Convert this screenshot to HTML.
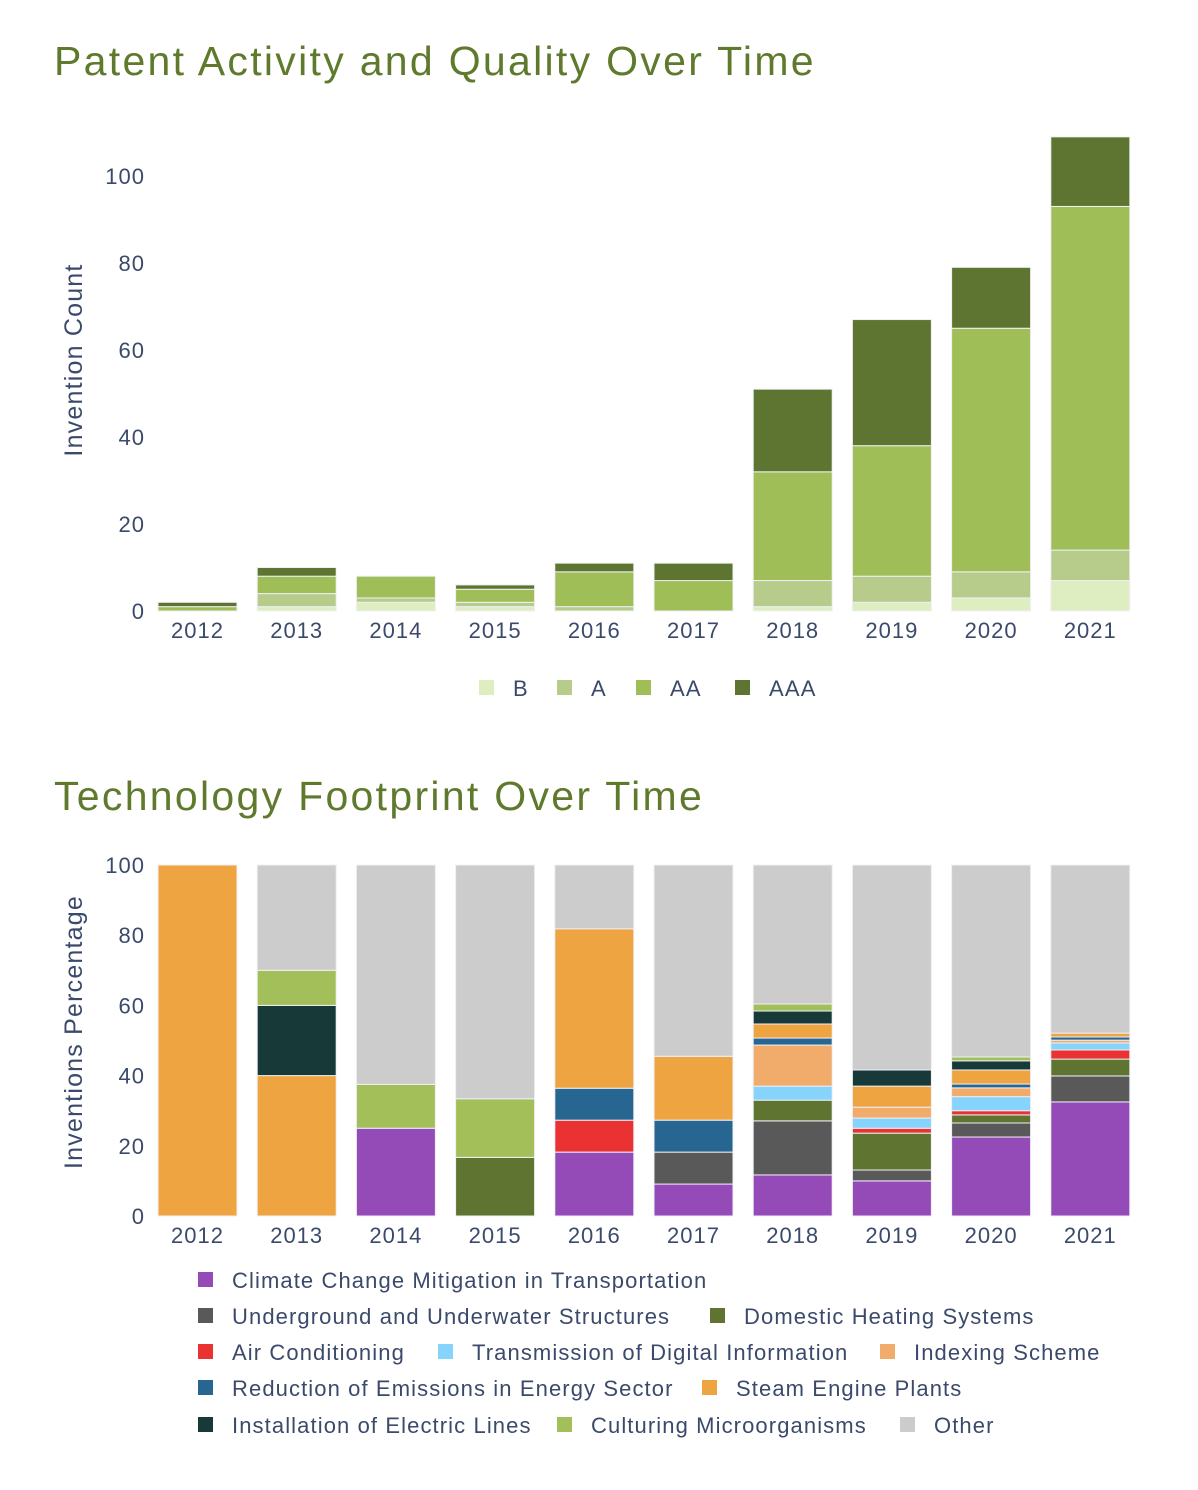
<!DOCTYPE html>
<html><head><meta charset="utf-8"><style>
html,body{margin:0;padding:0;background:#fff;}
svg{display:block;font-family:"Liberation Sans",sans-serif;}
</style></head><body>
<svg id="s" width="1198" height="1490" viewBox="0 0 1198 1490">
<text x="54" y="75" font-size="41" letter-spacing="2.3" fill="#5f7a2c">Patent Activity and Quality Over Time</text>
<text x="54" y="810" font-size="41" letter-spacing="2.3" fill="#5f7a2c">Technology Footprint Over Time</text>
<text transform="translate(82,360) rotate(-90)" text-anchor="middle" font-size="25" letter-spacing="1.2" fill="#3b4a6b">Invention Count</text>
<text transform="translate(82,1032) rotate(-90)" text-anchor="middle" font-size="25" letter-spacing="1.2" fill="#3b4a6b">Inventions Percentage</text>
<g id="topg"></g><g id="botg"></g>
</svg>
<script>
const years=["2012","2013","2014","2015","2016","2017","2018","2019","2020","2021"];
const qualNames=["B","A","AA","AAA"];
const qB=[0,1,2,1,0,0,1,2,3,7];
const qA=[0,3,1,1,1,0,6,6,6,7];
const qAA=[1,4,5,3,8,7,25,30,56,79];
const qAAA=[1,2,0,1,2,4,19,29,14,16];
const topTicks=[0,20,40,60,80,100];
const techNames=["Climate Change Mitigation in Transportation","Underground and Underwater Structures","Domestic Heating Systems","Air Conditioning","Transmission of Digital Information","Indexing Scheme","Reduction of Emissions in Energy Sector","Steam Engine Plants","Installation of Electric Lines","Culturing Microorganisms","Other"];
const tClimate=[0,0,25,0,18.2,9.1,11.7,10,22.5,32.5];
const tUnder=[0,0,0,0,0,9.1,15.4,3.1,4,7.4];
const tDomestic=[0,0,0,16.7,0,0,5.9,10.5,2.3,4.8];
const tAir=[0,0,0,0,9.1,0,0,1.4,1.2,2.6];
const tTrans=[0,0,0,0,0,0,4,2.9,4,2];
const tIndex=[0,0,0,0,0,0,11.7,3.1,2.5,0.8];
const tReduc=[0,0,0,0,9.1,9.1,2,0,1.1,0.9];
const tSteam=[100,40,0,0,45.5,18.2,4,6,4,1.1];
const tInstall=[0,20,0,0,0,0,3.7,4.6,2.6,0];
const tCultur=[0,10,12.5,16.7,0,0,2,0,1.1,0];
const tOther=[0,30,62.5,66.6,18.2,54.5,39.6,58.4,54.7,47.9];
const botTicks=[0,20,40,60,80,100];

const NS="http://www.w3.org/2000/svg";
function mk(p,tag,a){const e=document.createElementNS(NS,tag);for(const k in a)e.setAttribute(k,a[k]);p.appendChild(e);return e;}
const x0=158,pitch=99.2,bw=79;
function xb(i){return x0+i*pitch;}
const yTop=v=>611-v*4.35;
const yBot=v=>1216-v*3.51;
const qualCols=["#dfeec0","#b7cb8b","#a0be58","#5d7530"];
const techCols=["#944bb8","#595959","#5e7430","#ea3232","#86d3fb","#f1ab6a","#276690","#efa442","#173a38","#a2bf59","#cccccc"];

const topG=document.getElementById('topg');
topTicks.forEach(t=>{const e=mk(topG,'text',{x:145,y:yTop(t)+8,'text-anchor':'end','font-size':22,'letter-spacing':1,fill:'#3b4a6b'});e.textContent=t;

});
const qs=[qB,qA,qAA,qAAA];
years.forEach((yr,i)=>{let acc=0;qs.forEach((s,k)=>{const v=s[i];if(v>0){const r=mk(topG,'rect',{x:xb(i),y:yTop(acc+v),width:bw,height:v*4.35,fill:qualCols[k],stroke:'#eef0f6','stroke-width':1});

}acc+=v;});
const e=mk(topG,'text',{x:xb(i)+bw/2,y:638,'text-anchor':'middle','font-size':22,'letter-spacing':1,fill:'#3b4a6b'});e.textContent=yr;

});
const lgX=[479,557,636,735];
qualNames.forEach((n,k)=>{const r=mk(topG,'rect',{x:lgX[k],y:680,width:15,height:15,fill:qualCols[k]});


const t=mk(topG,'text',{x:lgX[k]+34,y:696,'font-size':22,'letter-spacing':1.2,fill:'#3b4a6b'});t.textContent=n;

});

const botG=document.getElementById('botg');
botTicks.forEach(t=>{const e=mk(botG,'text',{x:145,y:yBot(t)+8,'text-anchor':'end','font-size':22,'letter-spacing':1,fill:'#3b4a6b'});e.textContent=t;

});
const ts=[tClimate,tUnder,tDomestic,tAir,tTrans,tIndex,tReduc,tSteam,tInstall,tCultur,tOther];
years.forEach((yr,i)=>{let acc=0;ts.forEach((s,k)=>{const v=s[i];if(v>0){const r=mk(botG,'rect',{x:xb(i),y:yBot(Math.min(100,acc+v)),width:bw,height:v*3.51,fill:techCols[k],stroke:'#eef0f6','stroke-width':1});

}acc+=v;});
const e=mk(botG,'text',{x:xb(i)+bw/2,y:1243,'text-anchor':'middle','font-size':22,'letter-spacing':1,fill:'#3b4a6b'});e.textContent=yr;

});
const lg=[[0,198,1280],[1,198,1316],[2,710,1316],[3,198,1352],[4,438,1352],[5,880,1352],[6,198,1388],[7,702,1388],[8,198,1425],[9,557,1425],[10,900,1425]];
lg.forEach(([k,x,y])=>{const r=mk(botG,'rect',{x:x,y:y-8,width:15,height:15,fill:techCols[k]});


const t=mk(botG,'text',{x:x+34,y:y+8,'font-size':22,'letter-spacing':1.1,fill:'#3b4a6b'});t.textContent=techNames[k];

});
</script>
</body></html>
